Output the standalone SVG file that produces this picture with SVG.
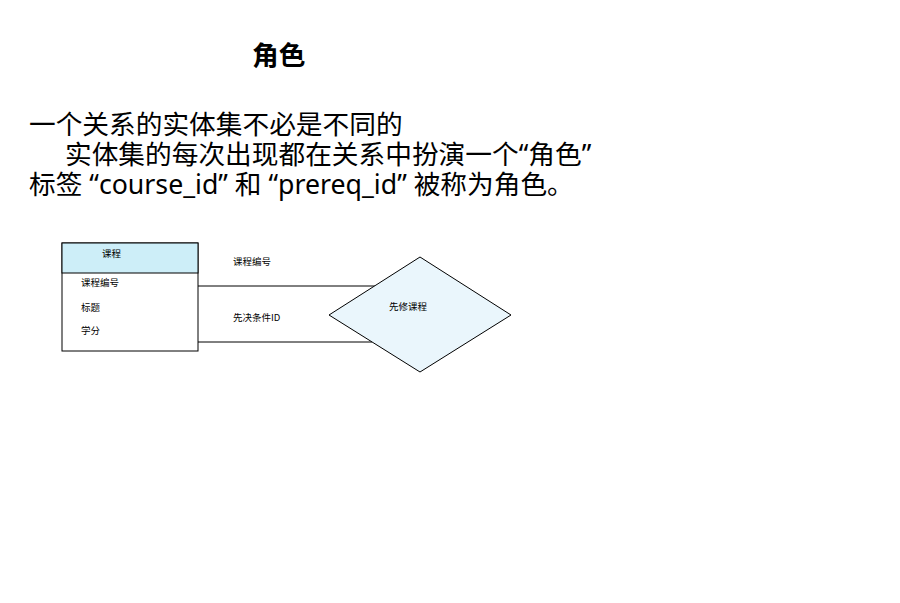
<svg xmlns="http://www.w3.org/2000/svg" width="900" height="603" viewBox="0 0 900 603">
<style>
text{font-family:"Noto Sans","Noto Sans CJK SC",sans-serif;fill:#000}
.body{font-size:26.7px}
.small{font-size:9.5px;font-family:"Noto Sans CJK SC","Noto Sans",sans-serif}
.edge{stroke:#000;stroke-width:1;fill:none}
</style>
<rect width="900" height="603" fill="#fff"/>
<text x="252" y="65" font-size="26.7" font-weight="bold">角色</text>
<text class="body" x="29" y="134">一个关系的实体集不必是不同的</text>
<text class="body" x="65" y="164">实体集的每次出现都在关系中扮演一个“角色”</text>
<text class="body" x="29" y="194">标签 “course_id” 和 “prereq_id” 被称为角色。</text>
<g id="connectors">
<line class="edge" x1="198" y1="286" x2="375" y2="286"/>
<line class="edge" x1="198" y1="342" x2="372" y2="342"/>
<text class="small" x="233" y="265">课程编号</text>
<text class="small" x="233" y="321">先决条件ID</text>
</g>
<g id="course">
<rect x="62" y="243" width="136" height="108" fill="#fff" stroke="#000" stroke-width="1"/>
<rect x="62" y="243" width="136" height="30" fill="#cdeef8" stroke="#000" stroke-width="1"/>
<text class="small" x="102" y="257">课程</text>
<text class="small" x="81" y="286">课程编号</text>
<text class="small" x="81" y="311">标题</text>
<text class="small" x="81" y="334">学分</text>
</g>
<g id="prereq">
<polygon points="329,315 420,257 511,315 420,372" fill="#eaf6fc" stroke="#000" stroke-width="1"/>
<text class="small" x="389" y="310">先修课程</text>
</g>
</svg>
